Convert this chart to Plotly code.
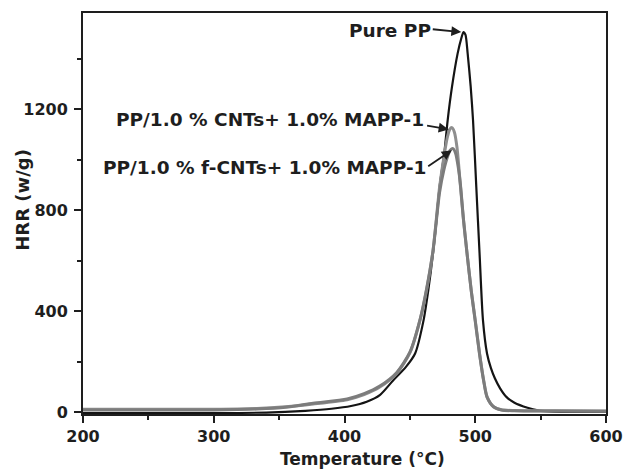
import plotly.graph_objects as go

# ---- data ----
T_pp = [200, 250, 300, 340, 370, 390, 405, 417, 427, 437, 447, 454, 460.5, 464, 467.7, 470.5, 472.7,
        476.3, 478.9, 482.2, 486.5, 489.3, 491, 492.5, 494.2, 496.5, 498.3, 500.8, 503.3, 505.9,
        509, 512, 515, 519, 524, 530, 540, 548, 560, 600]
H_pp = [-3, -3, -3, -1, 6, 14, 25, 42, 68, 125, 180, 233, 365, 480, 629, 770, 892,
        1024, 1156, 1288, 1420, 1480, 1505, 1495, 1420, 1290, 1156, 892, 629, 365,
        233, 175, 135, 95, 60, 38, 18, 8, 3, 2]

T_cnt = [200, 250, 300, 333, 355, 376, 402, 415, 427, 440, 450, 458, 463, 467.7, 472.7, 476,
         478.5, 480.5, 482.2, 484, 486, 488.6, 491, 493.7, 497, 500, 503.3, 506.4, 509, 514,
         520, 530, 560, 600]
H_cnt = [12, 12, 12, 15, 22, 33, 50, 70, 100, 155, 235, 370, 490, 640, 890, 1010,
         1085, 1120, 1127, 1110, 1050, 900, 760, 630, 480, 365, 233, 128, 62, 22,
         10, 7, 6, 5]

T_fcnt = [200, 250, 300, 333, 355, 376, 402, 415, 427, 440, 450, 458, 463, 467.7, 472.7, 476,
          479, 481, 483, 485, 487, 488.6, 491, 493.7, 497, 500, 503.3, 506.4, 509, 514,
          520, 530, 560, 600]
H_fcnt = [9, 9, 9, 13, 20, 36, 53, 74, 104, 158, 238, 372, 495, 640, 870, 960,
          1015, 1038, 1044, 1025, 970, 905, 765, 630, 478, 360, 230, 125, 60, 22,
          9, 6, 5, 4]

x_ticks = [200, 300, 400, 500, 600]
y_ticks = [0, 400, 800, 1200]

labels = ["Pure PP", "PP/1.0 % CNTs+ 1.0% MAPP-1", "PP/1.0 % f-CNTs+ 1.0% MAPP-1"]

FONT = "DejaVu Sans"
INK = "#1e1e1e"

fig = go.Figure()
fig.add_trace(go.Scatter(x=T_pp, y=H_pp, mode="lines",
                         line=dict(color="#141414", width=2.2, shape="spline", smoothing=0.7),
                         showlegend=False, hoverinfo="skip"))
fig.add_trace(go.Scatter(x=T_cnt, y=H_cnt, mode="lines",
                         line=dict(color="#8e8e8e", width=3, shape="spline", smoothing=0.7),
                         showlegend=False, hoverinfo="skip"))
fig.add_trace(go.Scatter(x=T_fcnt, y=H_fcnt, mode="lines",
                         line=dict(color="#7c7c7c", width=3, shape="spline", smoothing=0.7),
                         showlegend=False, hoverinfo="skip"))

axis_common = dict(showgrid=False, zeroline=False, showline=True, linecolor=INK, linewidth=2,
                   mirror=True, ticks="outside", tickcolor=INK, tickwidth=2, ticklen=7,
                   automargin=False,
                   tickfont=dict(family=FONT, size=16, color=INK, weight="bold"))

fig.update_xaxes(range=[200, 600], tickvals=x_ticks, ticktext=[str(v) for v in x_ticks],
                 minor=dict(ticks="outside", dtick=50, tick0=0, ticklen=4, tickwidth=2, tickcolor=INK),
                 **axis_common)
fig.update_yaxes(range=[-6.7, 1580.7], tickvals=y_ticks, ticktext=[str(v) for v in y_ticks],
                 minor=dict(ticks="outside", dtick=200, tick0=0, ticklen=4, tickwidth=2, tickcolor=INK),
                 ticklabelstandoff=3, **axis_common)

W, H = 625, 471
l, r, t, b = 83, 19, 13, 57
pw, ph = W - l - r, H - t - b

lab_font = dict(family=FONT, size=18.5, color=INK, weight="bold")
# text labels (right-aligned at the arrow tails)
fig.add_annotation(x=467.2, y=1512, xref="x", yref="y", text=labels[0], showarrow=False,
                   xanchor="right", yanchor="middle", font=lab_font, borderpad=0)
fig.add_annotation(x=461.8, y=1159, xref="x", yref="y", text=labels[1], showarrow=False,
                   xanchor="right", yanchor="middle", font=lab_font, borderpad=0)
fig.add_annotation(x=463.1, y=971, xref="x", yref="y", text=labels[2], showarrow=False,
                   xanchor="right", yanchor="middle", font=lab_font, borderpad=0)
# arrows
for hx, hy, ax, ay in [(489.3, 1505, -30, -3), (479.6, 1120, -23, -4), (482.0, 1037, -25, 17)]:
    fig.add_annotation(x=hx, y=hy, xref="x", yref="y", text="", showarrow=True,
                       ax=ax, ay=ay, arrowhead=2, arrowsize=1.1, arrowwidth=1.8,
                       arrowcolor=INK, standoff=0, startstandoff=0)

# axis titles (as annotations positioned from measured pixel centres)
fig.add_annotation(x=(362.5 - l) / pw, y=0, xref="paper", yref="paper", yshift=-45,
                   text="Temperature (°C)", showarrow=False, xanchor="center", yanchor="middle",
                   font=dict(family=FONT, size=17, color=INK, weight="bold"))
fig.add_annotation(x=0, y=(414 - 200) / ph, xref="paper", yref="paper", xshift=-(l - 21.7),
                   text="HRR (w/g)", textangle=-90, showarrow=False, xanchor="center", yanchor="middle",
                   font=dict(family=FONT, size=18, color=INK, weight="bold"))

fig.update_layout(width=W, height=H, margin=dict(l=l, r=r, t=t, b=b, autoexpand=False),
                  paper_bgcolor="white", plot_bgcolor="white", hovermode=False)

fig.write_html("out.html", config={"displayModeBar": False},
               post_script="document.body.style.margin='0';document.body.style.overflow='hidden';")
